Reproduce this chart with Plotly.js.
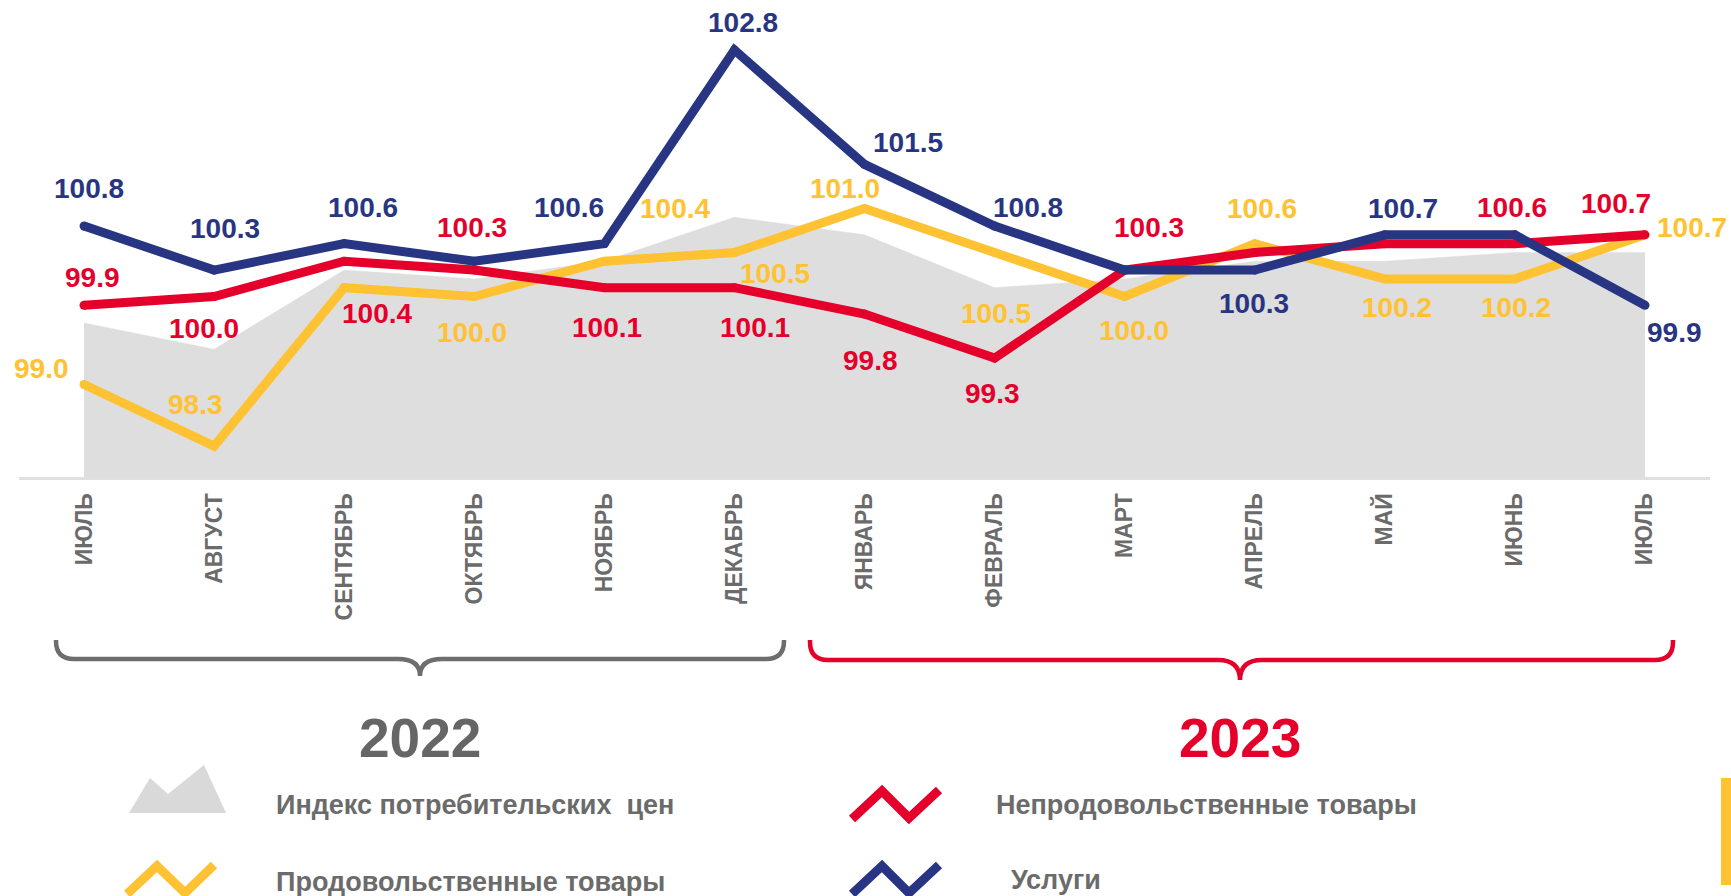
<!DOCTYPE html>
<html>
<head>
<meta charset="utf-8">
<script src="https://cdn.plot.ly/plotly-3.0.1.min.js"></script>
<style>html,body{margin:0;padding:0;background:#fff;}#chart{width:1731px;height:896px;}</style>
</head>
<body>
<div id="chart"></div>
<script>
// ---------- DATA ----------
const months = ['ИЮЛЬ','АВГУСТ','СЕНТЯБРЬ','ОКТЯБРЬ','НОЯБРЬ','ДЕКАБРЬ','ЯНВАРЬ','ФЕВРАЛЬ','МАРТ','АПРЕЛЬ','МАЙ','ИЮНЬ','ИЮЛЬ'];
const years = ['2022', '2023'];
const cpi      = [99.7, 99.4, 100.3, 100.2, 100.4, 100.9, 100.7, 100.1, 100.2, 100.4, 100.4, 100.5, 100.5];
const food     = [99.0, 98.3, 100.1, 100.0, 100.4, 100.5, 101.0, 100.5, 100.0, 100.6, 100.2, 100.2, 100.7];
const nonFood  = [99.9, 100.0, 100.4, 100.3, 100.1, 100.1, 99.8, 99.3, 100.3, 100.5, 100.6, 100.6, 100.7];
const services = [100.8, 100.3, 100.6, 100.4, 100.6, 102.8, 101.5, 100.8, 100.3, 100.3, 100.7, 100.7, 99.9];
// which points carry a value label
const foodLabeled     = [1,1,0,1,1,1,1,1,1,1,1,1,1];
const nonFoodLabeled  = [1,1,1,1,1,1,1,1,1,0,0,1,1];
const servicesLabeled = [1,1,1,0,1,1,1,1,0,1,1,0,1];
const seriesNames = ['Индекс потребительских\u00a0 цен', 'Продовольственные товары', 'Непродовольственные товары', 'Услуги'];

// ---------- STYLE / POSITIONS ----------
const C_BLUE = '#283583', C_RED = '#e4002b', C_YEL = '#fec232', C_GRAY = '#dedede', C_TXT = '#6b6b6b';
const FONT = 'Arial, "Liberation Sans", sans-serif';
// label offsets in px (dx right, dy down)
const foodOff = [[-43,-16],[-19,-42],null,[-2,36],[71,-53],[41,21],[-20,-20],[1,61],[9,34],[7,-35],[12,29],[1,29],[47,-7]];
const nonFoodOff = [[8,-28],[-10,32],[33,52],[-2,-43],[3,40],[21,40],[6,46],[-2,35],[24,-43],null,null,[-3,-36],[-29,-31]];
const servicesOff = [[5,-38],[11,-42],[19,-36],null,[-35,-36],[9,-27],[43,-22],[33,-19],null,[-1,33],[18,-26],null,[30,27]];

const ML = 19, MT = 20, MR = 21, MB = 419, WW = 1731, HH = 896;
const PW = WW - ML - MR, PH = HH - MT - MB;
const px = x => (x - ML) / PW;
const py = y => (MT + PH - y) / PH;

const idx = months.map((_, i) => i);

function lineTrace(vals, color, name) {
  return {x: idx, y: vals, type: 'scatter', mode: 'lines+markers', name: name,
    line: {color: color, width: 9}, marker: {color: color, size: 9}, hoverinfo: 'y', showlegend: false};
}
const traces = [
  {x: idx, y: cpi, type: 'scatter', mode: 'lines', fill: 'tozeroy', fillcolor: C_GRAY,
   line: {color: C_GRAY, width: 0.5}, name: seriesNames[0], showlegend: false, hoverinfo: 'y'},
  lineTrace(food, C_YEL, seriesNames[1]),
  lineTrace(nonFood, C_RED, seriesNames[2]),
  lineTrace(services, C_BLUE, seriesNames[3]),
];

const annotations = [];
function addLabels(vals, flags, offs, color) {
  vals.forEach((v, i) => {
    if (!flags[i]) return;
    const o = offs[i] || [0, -30];
    annotations.push({x: i, y: v, xref: 'x', yref: 'y', text: v.toFixed(1), showarrow: false,
      xanchor: 'center', yanchor: 'middle', xshift: o[0], yshift: -o[1],
      font: {family: FONT, size: 28, color: color, weight: 700}});
  });
}
addLabels(food, foodLabeled, foodOff, C_YEL);
addLabels(nonFood, nonFoodLabeled, nonFoodOff, C_RED);
addLabels(services, servicesLabeled, servicesOff, C_BLUE);

// years
annotations.push({x: px(420), y: py(738), xref: 'paper', yref: 'paper', text: years[0], showarrow: false,
  xanchor: 'center', yanchor: 'middle', font: {family: FONT, size: 55, color: '#666666', weight: 700}});
annotations.push({x: px(1240), y: py(738), xref: 'paper', yref: 'paper', text: years[1], showarrow: false,
  xanchor: 'center', yanchor: 'middle', font: {family: FONT, size: 55, color: C_RED, weight: 700}});

// legend texts
const legPos = [[274, 805], [274, 882], [994, 805], [1009, 880]];
seriesNames.forEach((n, i) => {
  annotations.push({x: px(legPos[i][0]), y: py(legPos[i][1]), xref: 'paper', yref: 'paper', text: n,
    showarrow: false, xanchor: 'left', yanchor: 'middle',
    font: {family: FONT, size: 27, color: C_TXT, weight: 700}});
});

function brace(x1, x2, xm, yt, yh, ytip, r, r2) {
  return 'M' + px(x1) + ',' + py(yt) +
    ' L' + px(x1) + ',' + py(yh - r) +
    ' Q' + px(x1) + ',' + py(yh) + ' ' + px(x1 + r) + ',' + py(yh) +
    ' L' + px(xm - r2) + ',' + py(yh) +
    ' Q' + px(xm) + ',' + py(yh) + ' ' + px(xm) + ',' + py(ytip) +
    ' Q' + px(xm) + ',' + py(yh) + ' ' + px(xm + r2) + ',' + py(yh) +
    ' L' + px(x2 - r) + ',' + py(yh) +
    ' Q' + px(x2) + ',' + py(yh) + ' ' + px(x2) + ',' + py(yh - r) +
    ' L' + px(x2) + ',' + py(yt);
}
function zig(pts) {
  return pts.map((p, i) => (i ? 'L' : 'M') + px(p[0]) + ',' + py(p[1])).join(' ');
}
const shapes = [
  {type: 'path', xref: 'paper', yref: 'paper', path: brace(56, 784, 420, 640, 659, 676, 18, 22),
   line: {color: '#6d6d6d', width: 4.5}, fillcolor: 'rgba(0,0,0,0)'},
  {type: 'path', xref: 'paper', yref: 'paper', path: brace(810, 1673, 1240, 640, 660, 680, 18, 22),
   line: {color: C_RED, width: 4.5}, fillcolor: 'rgba(0,0,0,0)'},
  // legend icons
  {type: 'path', xref: 'paper', yref: 'paper', path: zig([[129,813],[150,778],[168,794],[204,765],[226,813]]) + ' Z',
   line: {width: 0}, fillcolor: '#d9d9d9'},
  {type: 'path', xref: 'paper', yref: 'paper', path: zig([[127,894],[157,866],[185,893],[214,865]]),
   line: {color: C_YEL, width: 9}, fillcolor: 'rgba(0,0,0,0)'},
  {type: 'path', xref: 'paper', yref: 'paper', path: zig([[852,819],[882,791],[909,818],[939,790]]),
   line: {color: C_RED, width: 9}, fillcolor: 'rgba(0,0,0,0)'},
  {type: 'path', xref: 'paper', yref: 'paper', path: zig([[852,894],[882,866],[909,893],[939,865]]),
   line: {color: C_BLUE, width: 9}, fillcolor: 'rgba(0,0,0,0)'},
  // yellow side bar
  {type: 'rect', xref: 'paper', yref: 'paper', x0: px(1721), x1: px(1733), y0: py(778), y1: py(885),
   line: {width: 0}, fillcolor: C_YEL},
];

const layout = {
  width: WW, height: HH, autosize: false,
  margin: {l: ML, r: MR, t: MT, b: MB, pad: 0},
  paper_bgcolor: '#ffffff', plot_bgcolor: '#ffffff',
  showlegend: false,
  xaxis: {range: [-0.5, 12.5], tickvals: idx, ticktext: months, tickangle: -90,
    showgrid: false, zeroline: false, showline: true, linecolor: '#e0e0e0', linewidth: 3,
    ticks: 'outside', ticklen: 4, tickcolor: 'rgba(0,0,0,0)',
    tickfont: {family: FONT, size: 23, color: C_TXT, weight: 700}, fixedrange: true},
  yaxis: {range: [97.95, 103.14], showgrid: false, zeroline: false, showline: false,
    showticklabels: false, ticks: '', fixedrange: true},
  annotations: annotations,
  shapes: shapes,
};
Plotly.newPlot('chart', traces, layout, {displayModeBar: false, staticPlot: true});
</script>
</body>
</html>
